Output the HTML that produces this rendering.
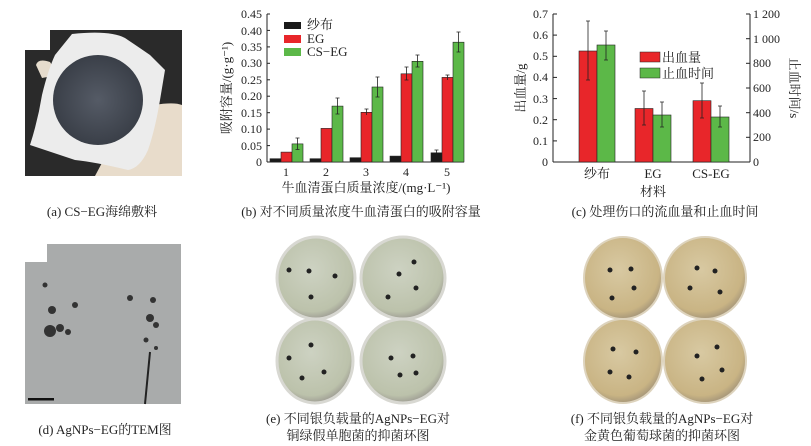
<!DOCTYPE html>
<html><head><meta charset="utf-8"><style>
html,body{margin:0;padding:0;background:#fff;}
svg{display:block;}
text{font-family:"Liberation Serif","Noto Serif CJK SC",serif;fill:#222;}
.cap{font-size:13px;}
.t{font-size:12px;}
</style></head><body>
<svg width="811" height="446" viewBox="0 0 811 446" xmlns="http://www.w3.org/2000/svg">
<defs>
<radialGradient id="ge" cx="0.45" cy="0.4" r="0.6"><stop offset="0" stop-color="#cdd2c2"/><stop offset="0.85" stop-color="#bcc2ab"/><stop offset="1" stop-color="#a09f95"/></radialGradient>
<radialGradient id="gf" cx="0.45" cy="0.4" r="0.6"><stop offset="0" stop-color="#d8c9a2"/><stop offset="0.85" stop-color="#c9b484"/><stop offset="1" stop-color="#a8987a"/></radialGradient>
<radialGradient id="gs" cx="0.5" cy="0.5" r="0.5"><stop offset="0" stop-color="#555b66"/><stop offset="1" stop-color="#3a3f48"/></radialGradient>
</defs>
<!-- (a) photo -->
<path d="M50 30 H182 V176 H25 V50 H50 Z" fill="#2a2a2a"/>
<path d="M130 110 Q170 100 182 105 V176 H95 Z" fill="#e8dccb"/>
<path d="M36 65 Q38 58 50 62 L58 75 L42 78 Z" fill="#e6dccd"/>
<path d="M72 34 Q110 30 125 38 Q140 48 150 55 L165 70 L160 100 Q155 130 148 150 Q140 168 128 170 Q95 162 75 160 Q45 150 30 145 Q38 120 42 95 Q48 70 55 55 Z" fill="#ececec"/>
<circle cx="98" cy="100" r="45" fill="url(#gs)"/>
<text class="cap" x="102" y="216" text-anchor="middle">(a)  CS−EG海绵敷料</text>

<!-- (b) chart -->
<g class="t">
<line x1="267" y1="14" x2="267" y2="162" stroke="#222"/>
<line x1="267" y1="162" x2="464" y2="162" stroke="#222"/>
<g text-anchor="end">
<text x="262" y="166">0</text><text x="262" y="150">0.05</text><text x="262" y="133">0.10</text><text x="262" y="117">0.15</text><text x="262" y="100">0.20</text><text x="262" y="84">0.25</text><text x="262" y="67">0.30</text><text x="262" y="51">0.35</text><text x="262" y="35">0.40</text><text x="262" y="18">0.45</text>
</g>
<g stroke="#222"><line x1="267" y1="145.6" x2="270" y2="145.6"/><line x1="267" y1="129.1" x2="270" y2="129.1"/><line x1="267" y1="112.7" x2="270" y2="112.7"/><line x1="267" y1="96.2" x2="270" y2="96.2"/><line x1="267" y1="79.8" x2="270" y2="79.8"/><line x1="267" y1="63.3" x2="270" y2="63.3"/><line x1="267" y1="46.9" x2="270" y2="46.9"/><line x1="267" y1="30.4" x2="270" y2="30.4"/><line x1="267" y1="14" x2="270" y2="14"/></g>
<g text-anchor="middle"><text x="286" y="176">1</text><text x="326" y="176">2</text><text x="366" y="176">3</text><text x="406" y="176">4</text><text x="447" y="176">5</text></g>
<text x="366" y="192" text-anchor="middle" style="font-size:13px">牛血清蛋白质量浓度/(mg·L⁻¹)</text>
<text transform="translate(231,88) rotate(-90)" text-anchor="middle" style="font-size:13px">吸附容量/(g·g⁻¹)</text>
</g>
<g stroke="#222" stroke-width="0.6">
<rect x="270" y="158.7" width="11" height="3.3" fill="#1a1a1a"/><rect x="281" y="152.1" width="11" height="9.9" fill="#e8262a"/><rect x="292" y="143.9" width="11" height="18.1" fill="#5cb848"/>
<rect x="310" y="158.7" width="11" height="3.3" fill="#1a1a1a"/><rect x="321" y="128.4" width="11" height="33.6" fill="#e8262a"/><rect x="332" y="106.1" width="11" height="55.9" fill="#5cb848"/>
<rect x="350" y="157.7" width="11" height="4.3" fill="#1a1a1a"/><rect x="361" y="112.3" width="11" height="49.7" fill="#e8262a"/><rect x="372" y="87.0" width="11" height="75" fill="#5cb848"/>
<rect x="390" y="156.1" width="11" height="5.9" fill="#1a1a1a"/><rect x="401" y="73.8" width="11" height="88.2" fill="#e8262a"/><rect x="412" y="61.3" width="11" height="100.7" fill="#5cb848"/>
<rect x="431" y="152.8" width="11" height="9.2" fill="#1a1a1a"/><rect x="442" y="77.4" width="11" height="84.6" fill="#e8262a"/><rect x="453" y="42.2" width="11" height="119.8" fill="#5cb848"/>
</g>
<g stroke="#222" stroke-width="0.8" fill="none">
<path d="M297.5 138v11.5M295.5 138h4M295.5 149.5h4"/>
<path d="M337.5 98v16M335.5 98h4M335.5 114h4"/>
<path d="M377.5 77v20M375.5 77h4M375.5 97h4"/>
<path d="M417.5 55v12M415.5 55h4M415.5 67h4"/>
<path d="M458.5 32v20M456.5 32h4M456.5 52h4"/>
<path d="M406.5 67v13M404.5 67h4M404.5 80h4"/>
<path d="M366.5 109v6M364.5 109h4"/>
<path d="M447.5 75v5M445.5 75h4"/>
<path d="M436.5 150v3M434.5 150h4"/>
</g>
<rect x="284" y="22" width="17" height="7" fill="#1a1a1a"/><text x="307" y="29" style="font-size:13px">纱布</text>
<rect x="284" y="35" width="17" height="8" fill="#e8262a"/><text x="307" y="43" style="font-size:13px">EG</text>
<rect x="284" y="48" width="17" height="8" fill="#5cb848"/><text x="307" y="56" style="font-size:13px">CS−EG</text>
<text class="cap" x="361" y="216" text-anchor="middle">(b)  对不同质量浓度牛血清蛋白的吸附容量</text>

<!-- (c) chart -->
<g class="t">
<line x1="553" y1="14" x2="553" y2="162" stroke="#222"/>
<line x1="553" y1="162" x2="750" y2="162" stroke="#222"/>
<line x1="750" y1="14" x2="750" y2="162" stroke="#222"/>
<g text-anchor="end"><text x="548" y="166">0</text><text x="548" y="145">0.1</text><text x="548" y="124">0.2</text><text x="548" y="103">0.3</text><text x="548" y="81">0.4</text><text x="548" y="60">0.5</text><text x="548" y="39">0.6</text><text x="548" y="18">0.7</text></g>
<g stroke="#222"><line x1="553" y1="140.9" x2="557" y2="140.9"/><line x1="553" y1="119.7" x2="557" y2="119.7"/><line x1="553" y1="98.6" x2="557" y2="98.6"/><line x1="553" y1="77.4" x2="557" y2="77.4"/><line x1="553" y1="56.3" x2="557" y2="56.3"/><line x1="553" y1="35.1" x2="557" y2="35.1"/><line x1="553" y1="14" x2="557" y2="14"/>
<line x1="746" y1="137.3" x2="750" y2="137.3"/><line x1="746" y1="112.7" x2="750" y2="112.7"/><line x1="746" y1="88" x2="750" y2="88"/><line x1="746" y1="63.3" x2="750" y2="63.3"/><line x1="746" y1="38.7" x2="750" y2="38.7"/><line x1="746" y1="14" x2="750" y2="14"/></g>
<g><text x="753" y="166">0</text><text x="753" y="141">200</text><text x="753" y="117">400</text><text x="753" y="92">600</text><text x="753" y="67">800</text><text x="753" y="43">1 000</text><text x="753" y="18">1 200</text></g>
<g text-anchor="middle" style="font-size:13px"><text x="597" y="178">纱布</text><text x="653" y="178">EG</text><text x="711" y="178">CS-EG</text><text x="653" y="196">材料</text></g>
<text transform="translate(525,88) rotate(-90)" text-anchor="middle" style="font-size:13px">出血量/g</text>
<text transform="translate(790,88) rotate(90)" text-anchor="middle" style="font-size:13px">止血时间/s</text>
</g>
<g stroke="#222" stroke-width="0.6">
<rect x="579" y="51" width="18" height="111" fill="#e8262a"/><rect x="597" y="45" width="18" height="117" fill="#5cb848"/>
<rect x="635" y="108.5" width="18" height="53.5" fill="#e8262a"/><rect x="653" y="115" width="18" height="47" fill="#5cb848"/>
<rect x="693" y="100.7" width="18" height="61.3" fill="#e8262a"/><rect x="711" y="117" width="18" height="45" fill="#5cb848"/>
</g>
<g stroke="#222" stroke-width="0.8" fill="none">
<path d="M588 21v59M586 21h4M586 80h4"/><path d="M606 31v29M604 31h4M604 60h4"/>
<path d="M644 91v34M642 91h4M642 125h4"/><path d="M662 102v25M660 102h4M660 127h4"/>
<path d="M702 83v35M700 83h4M700 118h4"/><path d="M720 106v21M718 106h4M718 127h4"/>
</g>
<rect x="640" y="52" width="20" height="10" fill="#e8262a" stroke="#222" stroke-width="0.5"/><text x="662" y="62" style="font-size:13px">出血量</text>
<rect x="640" y="68" width="20" height="10" fill="#5cb848" stroke="#222" stroke-width="0.5"/><text x="662" y="78" style="font-size:13px">止血时间</text>
<text class="cap" x="665" y="216" text-anchor="middle">(c)  处理伤口的流血量和止血时间</text>

<!-- (d) TEM -->
<path d="M47 244 H181 V404 H25 V262 H47 Z" fill="#a9abab"/>
<g fill="#333"><circle cx="45" cy="285" r="2.5"/><circle cx="52" cy="310" r="4"/><circle cx="50" cy="331" r="6"/><circle cx="60" cy="328" r="4"/><circle cx="68" cy="332" r="3"/><circle cx="75" cy="305" r="3"/><circle cx="130" cy="298" r="3"/><circle cx="153" cy="300" r="3"/><circle cx="150" cy="318" r="4"/><circle cx="156" cy="325" r="3"/><circle cx="146" cy="340" r="2.5"/><circle cx="156" cy="348" r="2"/></g>
<path d="M150 352 L145 404" stroke="#222" stroke-width="2"/>
<rect x="28" y="398" width="26" height="2.5" fill="#111"/>
<text class="cap" x="105" y="434" text-anchor="middle">(d)  AgNPs−EG的TEM图</text>

<!-- (e) plates -->
<g stroke="#d8d8d2" stroke-width="3">
<ellipse cx="316" cy="278" rx="39" ry="41" fill="url(#ge)"/>
<ellipse cx="403" cy="278" rx="42" ry="41" fill="url(#ge)"/>
<ellipse cx="315" cy="361" rx="38" ry="42" fill="url(#ge)"/>
<ellipse cx="403" cy="361" rx="42" ry="42" fill="url(#ge)"/>
</g>
<g fill="#222"><circle cx="289" cy="270" r="2.5"/><circle cx="309" cy="271" r="2.5"/><circle cx="335" cy="276" r="2.5"/><circle cx="311" cy="297" r="2.5"/>
<circle cx="414" cy="262" r="2.5"/><circle cx="399" cy="274" r="2.5"/><circle cx="416" cy="288" r="2.5"/><circle cx="388" cy="297" r="2.5"/>
<circle cx="311" cy="345" r="2.5"/><circle cx="289" cy="358" r="2.5"/><circle cx="324" cy="372" r="2.5"/><circle cx="302" cy="378" r="2.5"/>
<circle cx="413" cy="356" r="2.5"/><circle cx="391" cy="358" r="2.5"/><circle cx="400" cy="375" r="2.5"/><circle cx="416" cy="373" r="2.5"/></g>
<text class="cap" x="358" y="423" text-anchor="middle">(e)  不同银负载量的AgNPs−EG对</text>
<text class="cap" x="358" y="440" text-anchor="middle">铜绿假单胞菌的抑菌环图</text>

<!-- (f) plates -->
<g stroke="#ddd3bd" stroke-width="2">
<ellipse cx="623" cy="278" rx="39" ry="41" fill="url(#gf)"/>
<ellipse cx="705" cy="278" rx="41" ry="41" fill="url(#gf)"/>
<ellipse cx="623" cy="361" rx="39" ry="42" fill="url(#gf)"/>
<ellipse cx="705" cy="361" rx="41" ry="42" fill="url(#gf)"/>
</g>
<g fill="#222"><circle cx="610" cy="270" r="2.5"/><circle cx="631" cy="269" r="2.5"/><circle cx="634" cy="288" r="2.5"/><circle cx="612" cy="298" r="2.5"/>
<circle cx="697" cy="268" r="2.5"/><circle cx="715" cy="271" r="2.5"/><circle cx="690" cy="288" r="2.5"/><circle cx="720" cy="292" r="2.5"/>
<circle cx="613" cy="349" r="2.5"/><circle cx="636" cy="352" r="2.5"/><circle cx="610" cy="372" r="2.5"/><circle cx="629" cy="377" r="2.5"/>
<circle cx="717" cy="347" r="2.5"/><circle cx="697" cy="356" r="2.5"/><circle cx="722" cy="370" r="2.5"/><circle cx="702" cy="379" r="2.5"/></g>
<text class="cap" x="662" y="423" text-anchor="middle">(f)  不同银负载量的AgNPs−EG对</text>
<text class="cap" x="662" y="440" text-anchor="middle">金黄色葡萄球菌的抑菌环图</text>
</svg>
</body></html>
